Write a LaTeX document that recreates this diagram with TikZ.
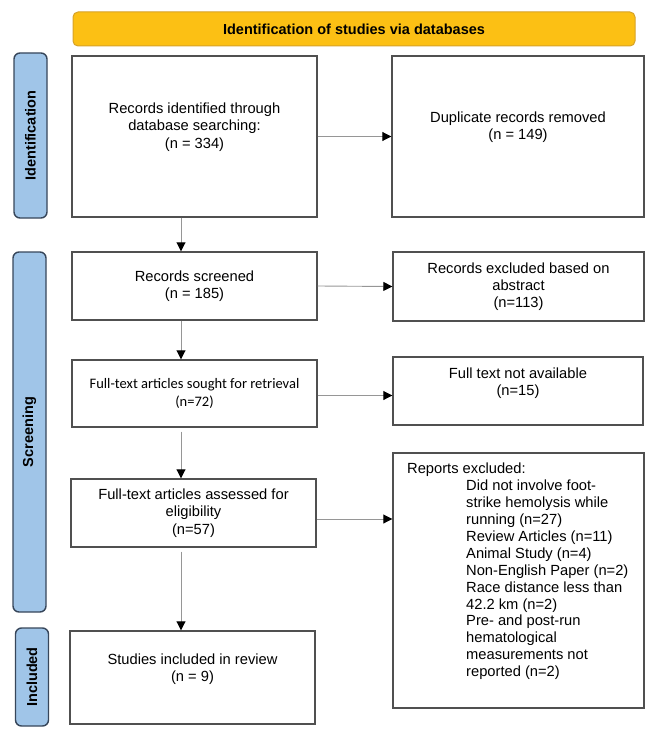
\documentclass[tikz,border=0pt]{standalone}
\usepackage{fontspec}
\setmainfont{Liberation Sans}
\newfontfamily\calibri{Carlito}
\usepackage{tikz}
\usetikzlibrary{arrows.meta}
\usetikzlibrary{positioning}
\definecolor{headgold}{RGB}{252,192,20}
\definecolor{headline}{RGB}{214,162,40}
\definecolor{sideblue}{RGB}{160,197,232}
\definecolor{sideline}{RGB}{55,70,90}
\definecolor{boxline}{RGB}{80,80,80}
\definecolor{arrowgray}{RGB}{150,150,150}

\begin{document}
\begin{tikzpicture}[x=1pt,y=-1pt,
  every node/.style={font=\fontsize{14.7}{17.3}\selectfont, inner sep=0pt},
  box/.style={draw=boxline, line width=1.4pt, fill=white, align=center},
  side/.style={draw=sideline, line width=1.4pt, fill=sideblue, rounded corners=6pt, rotate=90, minimum height=33pt, font=\fontsize{14.5}{17}\selectfont\bfseries},
  flow/.style={draw=arrowgray, line width=0.9pt, -{Triangle[length=9pt,width=9pt,black]}}]
\useasboundingbox (0,0) rectangle (656,741);
% header and phase bars
\node[draw=headline, line width=1pt, fill=headgold, rounded corners=5pt, minimum width=562pt, minimum height=34pt, font=\fontsize{14.5}{17}\selectfont\bfseries] (head) at (354,29) {Identification of studies via databases};
\node[side, minimum width=165pt] (sideId) at (30.5,135.5) {Identification};
\node[side, minimum width=360pt] (sideScr) at (29.5,432) {Screening};
\node[side, minimum width=98pt] (sideInc) at (32,677) {Included};
% left column
\node[box, minimum width=245pt, minimum height=161pt, label={[align=center, yshift=9.5pt]center:{Records identified through\\database searching:\\(n = 334)}}] (ident) at (194.5,136.5) {};
\node[box, minimum width=245pt, minimum height=68pt] (scr) at (194.5,286) {Records screened\\(n = 185)};
\node[box, minimum width=245pt, minimum height=67pt, font=\fontsize{14.5}{17.5}\selectfont\calibri] (full) at (194.5,393.5) {Full-text articles sought for retrieval\\(n=72)};
\node[box, minimum width=245pt, minimum height=68pt] (ass) at (193.5,513) {Full-text articles assessed for\\eligibility\\(n=57)};
\node[box, minimum width=245pt, minimum height=93pt, label={[align=center, yshift=8pt]center:{Studies included in review\\(n = 9)}}] (inc) at (192.5,677.5) {};
% right column
\node[box, minimum width=252pt, minimum height=161pt, label={[align=center, yshift=9pt]center:{Duplicate records removed\\(n = 149)}}] (dup) at (518,136.5) {};
\node[box, minimum width=251pt, minimum height=69pt] (abs) at (518.5,286.5) {Records excluded based on\\abstract\\(n=113)};
\node[box, minimum width=250pt, minimum height=68pt, label={[align=center, yshift=8pt]center:{Full text not available\\(n=15)}}] (nav) at (518,391) {};
\node[box, minimum width=251pt, minimum height=255pt] (rep) at (518.5,580.5) {};
\node[anchor=north west, align=left, font=\fontsize{14.7}{16.9}\selectfont] (repText) at (407,463) {Reports excluded:\\
\hspace*{59pt}Did not involve foot-\\
\hspace*{59pt}strike hemolysis while\\
\hspace*{59pt}running (n=27)\\
\hspace*{59pt}Review Articles (n=11)\\
\hspace*{59pt}Animal Study (n=4)\\
\hspace*{59pt}Non-English Paper (n=2)\\
\hspace*{59pt}Race distance less than\\
\hspace*{59pt}42.2 km (n=2)\\
\hspace*{59pt}Pre- and post-run\\
\hspace*{59pt}hematological\\
\hspace*{59pt}measurements not\\
\hspace*{59pt}reported (n=2)};
% connectors
\coordinate (ax) at (181,0);
\draw[flow] (ident.east) -- (dup.west);
\draw[flow] (scr.east) -- (abs.west);
\draw[flow] ([yshift=-2pt]full.east) -- ([yshift=-2pt]full.east -| nav.west);
\draw[flow] ([yshift=-6pt]ass.east) -- ([yshift=-6pt]ass.east -| rep.west);
\draw[flow] (ident.south -| ax) -- (scr.north -| ax);
\draw[flow] (scr.south -| ax) -- (full.north -| ax);
\draw[flow] ([yshift=-4pt]full.south -| ax) -- (ass.north -| ax);
\draw[flow] ([yshift=-4pt]ass.south -| ax) -- (inc.north -| ax);
\end{tikzpicture}
\end{document}
